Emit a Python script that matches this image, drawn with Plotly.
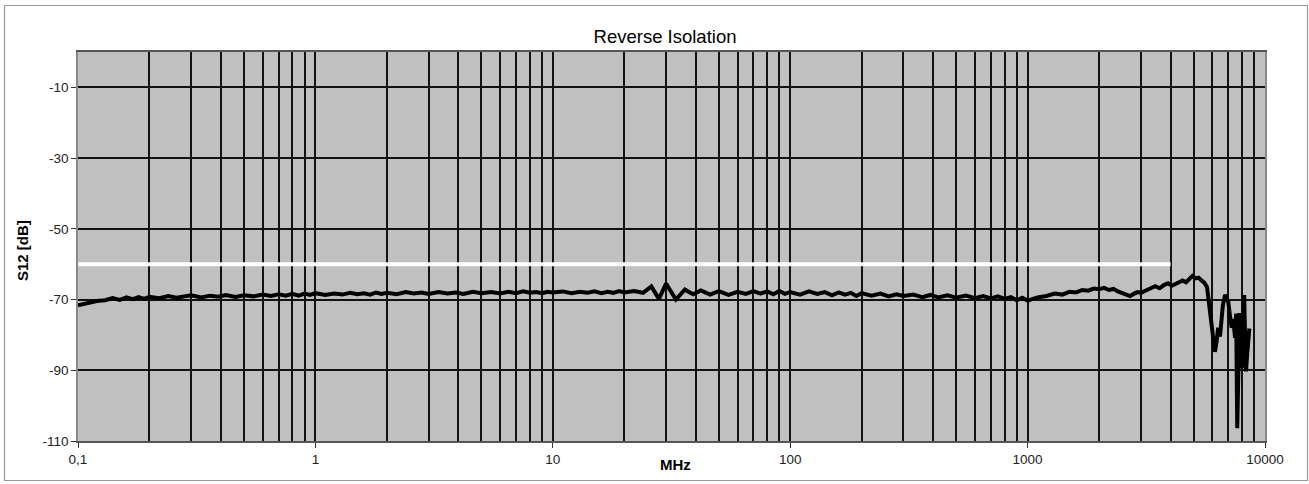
import plotly.graph_objects as go

# ---------------- data ----------------
freq_mhz = [
    0.10, 0.11, 0.12, 0.13, 0.14, 0.15, 0.16, 0.17, 0.18, 0.19, 0.20, 0.22, 0.24, 0.26, 0.28, 0.30,
    0.33, 0.36, 0.39, 0.42, 0.46, 0.50, 0.55, 0.60, 0.65, 0.70, 0.75, 0.80, 0.85, 0.90, 0.95,
    1.0, 1.1, 1.2, 1.3, 1.4, 1.5, 1.6, 1.7, 1.8, 1.9, 2.0, 2.2, 2.4, 2.6, 2.8, 3.0,
    3.3, 3.6, 3.9, 4.2, 4.6, 5.0, 5.5, 6.0, 6.5, 7.0, 7.5, 8.0, 8.5, 9.0, 9.5,
    10, 11, 12, 13, 14, 15, 16, 17, 18, 19, 20, 22, 24, 26, 28, 30,
    33, 36, 39, 42, 46, 50, 55, 60, 65, 70, 75, 80, 85, 90, 95,
    100, 110, 120, 130, 140, 150, 160, 170, 180, 190, 200, 220, 240, 260, 280, 300,
    330, 360, 390, 420, 460, 500, 550, 600, 650, 700, 750, 800, 850, 900, 950,
    1000, 1100, 1200, 1300, 1400, 1500, 1600, 1700, 1800, 1900, 2000, 2100, 2200, 2300, 2400, 2500,
    2600, 2700, 2800, 2900, 3000, 3150, 3300, 3450, 3600, 3750, 3900, 4050, 4200, 4350, 4500, 4650,
    4800, 4950, 5100, 5250, 5400, 5550, 5700, 5800, 5900, 6000, 6100, 6150, 6250, 6350, 6460, 6550,
    6650, 6790, 6900, 7000, 7100, 7240, 7350, 7480, 7560, 7600, 7640, 7700, 7750, 7800, 7880, 7980,
    8050, 8120, 8170, 8240, 8320, 8400, 8480, 8590,
]

s12_db = [
    -71.6, -70.9, -70.4, -70.2, -69.6, -70.1, -69.4, -69.9, -69.3, -69.8, -69.2, -69.6, -69.0, -69.5, -69.1, -68.8,
    -69.4, -68.9, -69.2, -68.7, -69.3, -68.8, -69.1, -68.6, -69.0, -68.5, -68.9, -68.4, -68.9, -68.3, -68.7,
    -68.2, -68.7, -68.3, -68.6, -68.1, -68.5, -68.2, -68.6, -68.0, -68.4, -68.1, -68.5, -67.9, -68.3, -68.0, -68.4,
    -67.9, -68.3, -68.0, -68.4, -67.8, -68.2, -67.9, -68.3, -67.8, -68.2, -67.7, -68.1, -67.9, -68.2, -67.8,
    -68.0, -67.7, -68.2, -67.8, -68.1, -67.7, -68.2, -67.8, -68.1, -67.6, -68.0, -67.6, -68.1, -66.3, -69.8, -65.5,
    -70.0, -67.2, -68.5, -67.4, -68.6, -67.6, -68.7, -67.8, -68.4, -67.6, -68.3, -67.7, -68.5, -67.6, -68.4,
    -67.9, -68.6, -67.7, -68.4, -67.9, -68.8, -68.0, -68.6, -68.1, -69.0, -68.2, -68.9, -68.3, -69.1, -68.5, -69.0,
    -68.6, -69.3, -68.7, -69.4, -68.8, -69.5, -68.9, -69.6, -69.0, -69.7, -69.1, -69.8, -69.3, -70.2, -69.5,
    -70.3, -69.4, -69.0, -68.3, -68.6, -67.8, -68.0, -67.3, -67.5, -66.9, -67.1, -66.7, -67.3, -67.0, -67.7, -68.2,
    -68.7, -69.0, -68.4, -67.9, -68.1, -67.3, -66.8, -66.2, -66.8, -65.9, -65.4, -66.1, -65.6, -65.0, -64.6, -65.1,
    -64.2, -63.3, -64.0, -63.8, -64.6, -65.2, -66.5, -70.5, -75.0, -78.5, -83.5, -84.8, -82.0, -78.0, -80.5, -76.0,
    -71.5, -68.7, -69.5, -70.6, -74.0, -78.0, -75.5, -80.8, -74.0, -85.0, -106.4, -95.0, -80.0, -73.8, -82.0, -89.4,
    -84.0, -72.0, -68.7, -80.0, -90.3, -86.0, -82.0, -78.2,
]

limit_freq = [0.1, 4000]
limit_db = [-60, -60]

x_tick_vals = [0.1, 1, 10, 100, 1000, 10000]
x_tick_text = ["0,1", "1", "10", "100", "1000", "10000"]
x_minor_vals = [m * d for d in [0.1, 1, 10, 100, 1000] for m in range(2, 10)]
y_tick_vals = [-110, -90, -70, -50, -30, -10]
y_tick_text = ["-110", "-90", "-70", "-50", "-30", "-10"]

title_text = "Reverse Isolation"
x_title = "MHz"
y_title = "S12 [dB]"

# ---------------- figure ----------------
FONT = "Arial, 'Liberation Sans', sans-serif"

fig = go.Figure()
fig.add_trace(go.Scatter(
    x=limit_freq, y=limit_db, mode="lines",
    line=dict(color="white", width=4), hoverinfo="skip", showlegend=False,
))
fig.add_trace(go.Scatter(
    x=freq_mhz, y=s12_db, mode="lines",
    line=dict(color="black", width=4), showlegend=False,
))

grid_col = "#111111"
fig.update_xaxes(
    type="log", range=[-1, 4],
    tickmode="array", tickvals=x_tick_vals, ticktext=x_tick_text,
    ticks="outside", ticklen=5, tickcolor="#333", tickwidth=1,
    showgrid=True, gridcolor=grid_col, gridwidth=1.6,
    minor=dict(tickmode="array", tickvals=x_minor_vals, showgrid=True,
               gridcolor=grid_col, gridwidth=1.6, ticks=""),
    showline=True, linecolor="#555", linewidth=1.5, mirror=True,
    tickfont=dict(family=FONT, size=13.5, color="#222"),
    zeroline=False,
)
fig.update_yaxes(
    range=[-110, 0],
    tickmode="array", tickvals=y_tick_vals, ticktext=y_tick_text,
    ticks="outside", ticklen=5, tickcolor="#333", tickwidth=1,
    showgrid=True, gridcolor=grid_col, gridwidth=1.6,
    showline=True, linecolor="#888", linewidth=1.5, mirror=True,
    tickfont=dict(family=FONT, size=13.5, color="#222"),
    zeroline=False,
)

fig.update_layout(
    width=1309, height=484,
    margin=dict(l=78, r=44, t=52, b=43),
    paper_bgcolor="white", plot_bgcolor="#c0c0c0",
    font=dict(family=FONT, color="black"),
    title=dict(text=title_text, x=(665 - 78) / 1187, xref="paper", xanchor="center",
               y=1 - 37 / 484, yref="container", yanchor="middle",
               font=dict(family=FONT, size=18.5, color="black")),
    annotations=[
        dict(text="<b>%s</b>" % x_title, xref="paper", yref="paper",
             x=(676 - 78) / 1187, y=(441 - 464) / 389, showarrow=False,
             xanchor="center", yanchor="middle", font=dict(family=FONT, size=15, color="black")),
        dict(text="<b>%s</b>" % y_title, xref="paper", yref="paper",
             x=(22 - 78) / 1187, y=(441 - 251) / 389, showarrow=False, textangle=-90,
             xanchor="center", yanchor="middle", font=dict(family=FONT, size=15, color="black")),
    ],
    shapes=[
        dict(type="rect", xref="paper", yref="paper",
             x0=(4.5 - 78) / 1187, x1=(1307.5 - 78) / 1187,
             y0=(441 - 480.5) / 389, y1=(441 - 5.5) / 389,
             line=dict(color="#999", width=1.2), fillcolor="rgba(0,0,0,0)", layer="below"),
    ],
)

fig.write_html("out.html", config={"displayModeBar": False},
               post_script="document.body.style.margin='0';")
